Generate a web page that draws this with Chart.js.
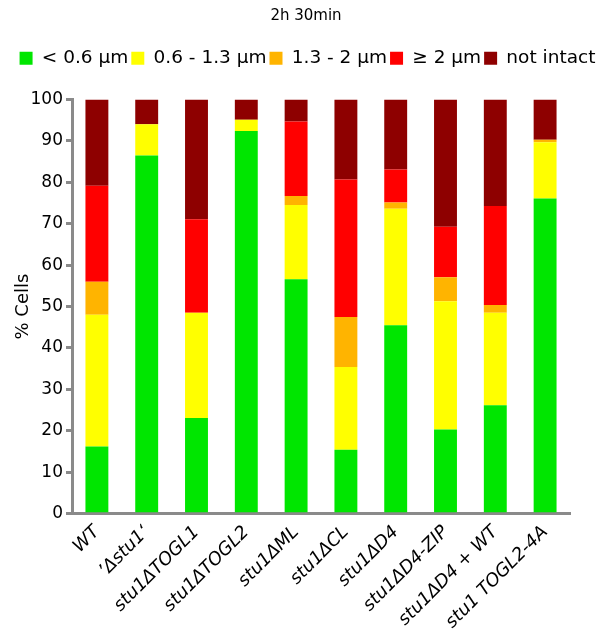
<!DOCTYPE html>
<html>
<head>
<meta charset="utf-8">
<script src="https://cdn.jsdelivr.net/npm/chart.js@4/dist/chart.umd.min.js"></script>
<style>
  html, body { margin: 0; padding: 0; background: #fff; }
  #wrap { width: 602px; height: 643px; position: relative; }
</style>
</head>
<body>
<div id="wrap"><canvas id="chart"></canvas></div>
<script>
// ─── DATA ─────────────────────────────────────────────────
const strains = [
  'WT', '\u2019\u0394stu1\u2018', 'stu1\u0394TOGL1', 'stu1\u0394TOGL2', 'stu1\u0394ML',
  'stu1\u0394CL', 'stu1\u0394D4', 'stu1\u0394D4-ZIP', 'stu1\u0394D4 + WT', 'stu1 TOGL2-4A'
];
const seriesNames = ['< 0.6 \u00b5m', '0.6 - 1.3 \u00b5m', '1.3 - 2 \u00b5m', '\u2265 2 \u00b5m', 'not intact'];

const lt06   = [16.2, 86.5, 23.1, 92.4, 56.6, 15.4, 45.5, 20.3, 26.2, 76.1];
const r06_13 = [31.8,  7.5, 25.4,  2.7, 17.9, 20.0, 28.1, 31.0, 22.3, 13.6];
const r13_2  = [ 8.0,  0,    0,    0,    2.2, 12.1,  1.5,  5.8,  1.9,  0.6];
const ge2    = [23.2,  0,   22.6,  0,   18.0, 33.2,  8.0, 12.2, 23.9,  0];
const notInt = [20.8,  6.0, 28.9,  4.9,  5.3, 19.3, 16.9, 30.7, 25.7,  9.7];

const yTicks = [0, 10, 20, 30, 40, 50, 60, 70, 80, 90, 100];

// ─── COLORS ───────────────────────────────────────────────
const colors = ['#00e600', '#ffff00', '#ffb400', '#ff0000', '#8e0000'];
const AXIS = '#8a8a8a';
const FONT = "'DejaVu Sans', sans-serif";

const values = [lt06, r06_13, r13_2, ge2, notInt];

// legend: keep it on one line, leave a gap under it, nudge it right a bit
const legendTweak = {
  id: 'legendTweak',
  beforeInit(chart) {
    const fit = chart.legend.fit;
    chart.legend.fit = function () {
      this.maxWidth = chart.width;
      fit.call(this);
      this.height += 22;
    };
  },
  afterLayout(chart) {
    chart.legend.left += 3;
  },
};

new Chart(document.getElementById('chart'), {
  type: 'bar',
  plugins: [legendTweak],
  data: {
    labels: strains,
    datasets: seriesNames.map((name, i) => ({
      label: name,
      data: values[i],
      backgroundColor: colors[i],
      borderWidth: 0,
      barPercentage: 0.92,
      categoryPercentage: 0.5,
    })),
  },
  options: {
    responsive: true,
    maintainAspectRatio: false,
    animation: false,
    layout: { padding: { left: 10, right: 0, top: 4, bottom: 10 } },
    plugins: {
      title: {
        display: true,
        text: '2h 30min',
        color: '#000',
        font: { family: FONT, size: 15, weight: 'normal' },
        padding: { top: 3, bottom: 21 },
      },
      legend: {
        position: 'top',
        labels: {
          color: '#000',
          font: { family: FONT, size: 18.5 },
          boxWidth: 13,
          boxHeight: 13,
          padding: 3,
        },
      },
      tooltip: { enabled: false },
    },
    scales: {
      x: {
        stacked: true,
        grid: { display: false },
        border: { color: AXIS, width: 3 },
        ticks: {
          color: '#000',
          font: { family: FONT, size: 18, style: 'oblique' },
          minRotation: 45,
          maxRotation: 45,
          autoSkip: false,
          padding: 0,
        },
      },
      y: {
        stacked: true,
        min: 0,
        max: 100,
        afterBuildTicks: axis => { axis.ticks = yTicks.map(v => ({ value: v })); },
        afterFit: axis => { axis.width = 62; },
        grid: {
          drawOnChartArea: false,
          drawTicks: true,
          tickLength: 6,
          color: AXIS,
          lineWidth: 3,
        },
        border: { color: AXIS, width: 3 },
        ticks: {
          color: '#000',
          font: { family: FONT, size: 17 },
          padding: 3,
        },
        title: {
          display: true,
          text: '% Cells',
          color: '#000',
          font: { family: FONT, size: 18 },
          padding: { top: 3, bottom: 0 },
        },
      },
      // empty right-hand axis, only to leave room on the right
      yRight: {
        position: 'right',
        display: true,
        grid: { display: false },
        border: { display: false },
        ticks: { display: false },
        afterFit: axis => { axis.width = 32; },
      },
    },
  },
});
</script>
</body>
</html>
